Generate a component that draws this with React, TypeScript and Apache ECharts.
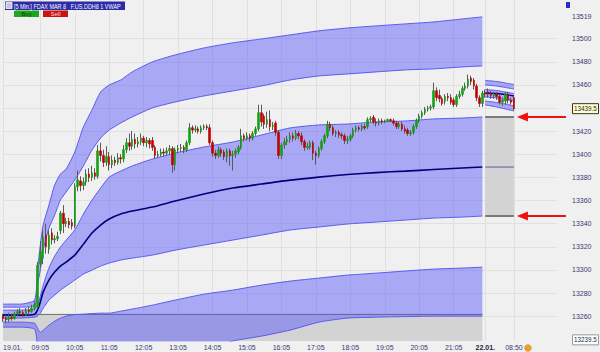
import React, { useEffect, useRef } from 'react';
import * as echarts from 'echarts';

// ---- candles: [open, close, low, high] ----
const day1Candles: number[][] = [
  [13260, 13258, 13255, 13262], [13258, 13257, 13254, 13261], [13257, 13259, 13255, 13263], [13259, 13258, 13256, 13262],
  [13258, 13262, 13257, 13264], [13262, 13264, 13260, 13266], [13264, 13263, 13261, 13267], [13263, 13261, 13259, 13265],
  [13261, 13265, 13260, 13267], [13265, 13264, 13261, 13268], [13264, 13267, 13263, 13270], [13267, 13270, 13265, 13273],
  [13268, 13304, 13266, 13307], [13305, 13316, 13302, 13325], [13310, 13328, 13305, 13335], [13330, 13320, 13314, 13340],
  [13318, 13330, 13314, 13334], [13332, 13326, 13322, 13336], [13326, 13327, 13323, 13330], [13327, 13329, 13325, 13333],
  [13334, 13349, 13331, 13351], [13349, 13340, 13332, 13356], [13340, 13342, 13337, 13345], [13342, 13339, 13336, 13345],
  [13341, 13338, 13335, 13344], [13338, 13372, 13336, 13375], [13372, 13378, 13368, 13386], [13377, 13373, 13368, 13381],
  [13373, 13376, 13369, 13380], [13376, 13383, 13373, 13387], [13383, 13380, 13376, 13388], [13380, 13384, 13377, 13390],
  [13384, 13381, 13378, 13388], [13381, 13403, 13379, 13408], [13403, 13399, 13394, 13410], [13399, 13393, 13389, 13404],
  [13393, 13398, 13390, 13407], [13398, 13391, 13386, 13402], [13391, 13395, 13388, 13399], [13395, 13393, 13390, 13398],
  [13393, 13397, 13391, 13401], [13397, 13396, 13392, 13400], [13396, 13404, 13393, 13408], [13404, 13410, 13401, 13414],
  [13410, 13407, 13403, 13418], [13407, 13413, 13404, 13420], [13413, 13409, 13405, 13418], [13409, 13411, 13406, 13415],
  [13411, 13414, 13408, 13418], [13414, 13410, 13407, 13416], [13410, 13412, 13406, 13415], [13412, 13409, 13405, 13414],
  [13412, 13406, 13403, 13415], [13406, 13399, 13396, 13408], [13399, 13400, 13397, 13403], [13400, 13402, 13398, 13405],
  [13402, 13401, 13398, 13405], [13401, 13403, 13399, 13406], [13403, 13405, 13400, 13408], [13405, 13391, 13384, 13407],
  [13391, 13404, 13386, 13406], [13404, 13405, 13401, 13408], [13405, 13406, 13402, 13409], [13406, 13404, 13401, 13408],
  [13404, 13410, 13402, 13412], [13410, 13423, 13408, 13427], [13423, 13421, 13418, 13425], [13421, 13422, 13419, 13425],
  [13422, 13420, 13418, 13424], [13420, 13423, 13418, 13425], [13423, 13424, 13421, 13426], [13424, 13423, 13421, 13426],
  [13423, 13410, 13408, 13426], [13410, 13401, 13398, 13412], [13401, 13399, 13396, 13404], [13399, 13404, 13397, 13407],
  [13404, 13401, 13398, 13406], [13402, 13398, 13395, 13404], [13398, 13403, 13393, 13405], [13403, 13399, 13390, 13405],
  [13399, 13400, 13386, 13403], [13400, 13403, 13397, 13405], [13402, 13406, 13400, 13408], [13406, 13416, 13404, 13422],
  [13416, 13414, 13411, 13418], [13414, 13416, 13412, 13419], [13416, 13414, 13411, 13418], [13414, 13418, 13412, 13420],
  [13418, 13422, 13416, 13424], [13422, 13436, 13420, 13443], [13436, 13428, 13424, 13443], [13433, 13426, 13422, 13435],
  [13426, 13430, 13423, 13437], [13430, 13424, 13420, 13438], [13424, 13425, 13421, 13428], [13427, 13419, 13416, 13429],
  [13419, 13399, 13396, 13421], [13399, 13408, 13396, 13410], [13408, 13411, 13405, 13414], [13411, 13413, 13408, 13416],
  [13413, 13416, 13410, 13419], [13416, 13414, 13411, 13419], [13414, 13418, 13412, 13421], [13418, 13416, 13413, 13420],
  [13416, 13411, 13408, 13419], [13411, 13406, 13403, 13413], [13406, 13407, 13404, 13410], [13406, 13410, 13404, 13412],
  [13410, 13401, 13395, 13412], [13401, 13399, 13391, 13403], [13399, 13405, 13397, 13407], [13405, 13411, 13403, 13413],
  [13411, 13416, 13409, 13418], [13416, 13426, 13414, 13429], [13426, 13423, 13420, 13428], [13423, 13418, 13416, 13425],
  [13418, 13419, 13415, 13421], [13419, 13417, 13414, 13421], [13417, 13416, 13413, 13419], [13416, 13412, 13409, 13418],
  [13412, 13413, 13409, 13416], [13413, 13416, 13411, 13418], [13416, 13421, 13414, 13423], [13421, 13423, 13419, 13425],
  [13423, 13422, 13420, 13425], [13422, 13424, 13420, 13426], [13424, 13423, 13421, 13426], [13424, 13430, 13422, 13432],
  [13430, 13431, 13428, 13433], [13432, 13428, 13426, 13434], [13428, 13427, 13424, 13431], [13427, 13429, 13425, 13431],
  [13429, 13428, 13426, 13431], [13428, 13429, 13427, 13430], [13429, 13430, 13428, 13431], [13430, 13429, 13428, 13431],
  [13429, 13427, 13425, 13431], [13427, 13424, 13422, 13429], [13424, 13426, 13422, 13428], [13426, 13422, 13420, 13428],
  [13422, 13420, 13418, 13425], [13421, 13418, 13416, 13423], [13418, 13419, 13416, 13421], [13419, 13424, 13417, 13426],
  [13424, 13429, 13422, 13431], [13429, 13433, 13427, 13435], [13433, 13436, 13431, 13438], [13436, 13439, 13434, 13441],
  [13439, 13440, 13437, 13442], [13440, 13441, 13438, 13443], [13441, 13455, 13439, 13462], [13455, 13449, 13446, 13458],
  [13451, 13448, 13445, 13456], [13448, 13444, 13442, 13450], [13446, 13450, 13443, 13452], [13450, 13449, 13446, 13453],
  [13449, 13445, 13443, 13452], [13447, 13443, 13441, 13449], [13443, 13450, 13441, 13452], [13450, 13452, 13448, 13455],
  [13452, 13457, 13450, 13459], [13457, 13459, 13455, 13462], [13459, 13465, 13457, 13469], [13466, 13463, 13460, 13468],
  [13464, 13459, 13456, 13466], [13459, 13449, 13446, 13461], [13449, 13444, 13441, 13451], [13444, 13453, 13441, 13455],
];
const day2Candles: number[][] = [
  [13453, 13452, 13449, 13456], [13454, 13452, 13449, 13457], [13452, 13451, 13448, 13455], [13451, 13452, 13448, 13454],
  [13452, 13450, 13447, 13454], [13450, 13445, 13443, 13452], [13445, 13447, 13442, 13449], [13446, 13452, 13443, 13454],
  [13452, 13447, 13444, 13454], [13447, 13445, 13443, 13449], [13449, 13439.5, 13438, 13450],
];

// ---- VWAP bands, day 1 (sampled at these bar indices) ----
const bandIdx = [0, 6, 11, 12, 13, 14, 16, 18, 20, 22, 25, 28, 31, 34, 37, 41, 45, 52, 60, 70, 80, 90, 100, 110, 120, 130, 140, 150, 160, 167];
const upper3 = [13270.4, 13270.4, 13273.9, 13299.8, 13321.5, 13338.8, 13356.1, 13373.4, 13382.9, 13387.3, 13402, 13423.6, 13438.4, 13453.9, 13460, 13464.3, 13471.3, 13479.9, 13486, 13492, 13496.4, 13499.8, 13503.3, 13506.8, 13509.3, 13511.1, 13512.8, 13514.5, 13517.1, 13518.9];
const upper2 = [13267.8, 13267.8, 13268.7, 13286.8, 13299.8, 13317.1, 13336.2, 13347.4, 13360.4, 13367.4, 13377.8, 13389.9, 13403.7, 13414.1, 13421, 13427.1, 13432.3, 13440.1, 13445.3, 13450.5, 13454.8, 13459.1, 13464.3, 13467.8, 13469.5, 13471.3, 13473, 13473.9, 13475.6, 13476.5];
const upper1 = [13265.2, 13265.2, 13266.1, 13268.7, 13277.3, 13286.8, 13301.6, 13311.9, 13319.7, 13325.8, 13334.5, 13348.3, 13360.4, 13370.8, 13380.3, 13385.5, 13389.9, 13395.9, 13401.1, 13406.3, 13410.6, 13416.7, 13422.8, 13425.4, 13426.2, 13428, 13428.8, 13430.6, 13431.4, 13432.3];
const vwap = [13260.9, 13260.9, 13261.7, 13265.2, 13272.1, 13280.8, 13291.2, 13298.1, 13303.3, 13306.8, 13312.8, 13322.3, 13331.9, 13338.8, 13344, 13348.3, 13350.9, 13354.4, 13359.6, 13365.6, 13370.8, 13374.3, 13377.7, 13380.3, 13382.5, 13384.2, 13385.5, 13386.8, 13388.1, 13389];
const lower1 = [13258.3, 13258.3, 13259.1, 13260, 13262.6, 13266.9, 13273.9, 13278.2, 13282.5, 13286, 13291.2, 13296.4, 13299.8, 13303.3, 13305.9, 13308.5, 13310.2, 13312.8, 13317.1, 13321.5, 13325.8, 13330.1, 13334.5, 13337.1, 13339.7, 13341.4, 13343.1, 13344.8, 13345.7, 13346.6];
const lower2 = [13254.8, 13254.8, 13253.9, 13249.6, 13246.1, 13247.9, 13252.2, 13255.7, 13258.3, 13260, 13261.3, 13261.7, 13262.2, 13262.6, 13262.6, 13264.3, 13266.1, 13269.5, 13273.9, 13279, 13282.5, 13286.8, 13290.3, 13292.9, 13295.5, 13297.2, 13299, 13300.7, 13301.6, 13302.4];
const lower3 = [13250.5, 13250.5, 13248.7, 13234.9, 13221.9, 13211.5, 13200.3, 13194.2, 13190.7, 13189, 13187.3, 13188.1, 13189.9, 13192.5, 13195.9, 13200.3, 13204.6, 13211.5, 13218.4, 13228.8, 13238.4, 13242.7, 13247.9, 13254.8, 13258.3, 13259.1, 13259.6, 13260, 13260, 13260];

// ---- VWAP bands, day 2 ----
const day2Idx = [168, 172, 175, 178];
const d2Upper3 = [13463.9, 13463, 13461.7, 13460.4];
const d2Upper2 = [13460, 13459.1, 13457.8, 13456.5];
const d2Upper1 = [13456.1, 13455.2, 13453.9, 13452.6];
const d2Vwap = [13453.1, 13452.6, 13451.8, 13450.5];
const d2Lower1 = [13449.6, 13448.8, 13447.4, 13446.1];
const d2Lower2 = [13446.1, 13444.8, 13443.5, 13441.8];
const d2Lower3 = [13442.7, 13441, 13439.2, 13437.5];

// ---- reference levels ----
const refLevel = 13261.5;
const prevUpper1 = 13432.3;
const prevVwap = 13389;
const prevLower1 = 13346.6;
const lastPrice = 13439.5;
const lowPrice = 13239.5;

// ---- axes ----
const yMin = 13238.5;
const yMax = 13533.5;
const yGridValues = [13260, 13280, 13300, 13320, 13340, 13360, 13380, 13400, 13420, 13440, 13460, 13480, 13500];
const yLabelValues = [13260, 13280, 13300, 13320, 13340, 13360, 13380, 13400, 13420, 13460, 13480, 13500, 13519];
const xTickCats = ['19.01. 08:00', '19.01. 09:05', '19.01. 10:05', '19.01. 11:05', '19.01. 12:05', '19.01. 13:05', '19.01. 14:05', '19.01. 15:05', '19.01. 16:05', '19.01. 17:05', '19.01. 18:05', '19.01. 19:05', '19.01. 20:05', '19.01. 21:05', '22.01. 08:00', '22.01. 08:50'];
const xTickLabels = ['19.01.', '09:05', '10:05', '11:05', '12:05', '13:05', '14:05', '15:05', '16:05', '17:05', '18:05', '19:05', '20:05', '21:05', '22.01.', '08:50'];
const boldLabels = ['22.01.'];

const hhmm = (m: number) => `${String(Math.floor(m / 60)).padStart(2, '0')}:${String(m % 60).padStart(2, '0')}`;
function buildCategories(): string[] {
  const cats: string[] = [];
  for (let m = 8 * 60; m < 22 * 60; m += 5) cats.push('19.01. ' + hhmm(m));
  for (let m = 8 * 60; m <= 8 * 60 + 50; m += 5) cats.push('22.01. ' + hhmm(m));
  let k = 0;
  while (cats.length < 194) cats.push('pad' + k++);
  return cats;
}

const FONT = "'Liberation Sans Narrow', 'Liberation Sans', Arial, sans-serif";
const LINE_BLUE = '#5a5af0';
const FILL_BLUE = 'rgba(80,80,250,0.45)';
const SMOOTH = 0.2;

function pairs(idx: number[], vals: number[]) {
  return idx.map((x, i) => [x, vals[i]]);
}

function fillPair(stack: string, idx: number[], lo: number[], hi: number[]) {
  return [
    { type: 'line', stack, data: pairs(idx, lo), symbol: 'none', smooth: SMOOTH, silent: true, z: 3,
      lineStyle: { color: LINE_BLUE, width: 1 } },
    { type: 'line', stack, data: idx.map((x, i) => [x, +(hi[i] - lo[i]).toFixed(2)]), symbol: 'none', smooth: SMOOTH,
      silent: true, z: 3, lineStyle: { color: LINE_BLUE, width: 1 }, areaStyle: { color: FILL_BLUE, opacity: 1 } },
  ];
}

export default function App() {
  const ref = useRef<HTMLDivElement>(null);
  useEffect(() => {
    if (!ref.current) return;
    const chart = echarts.init(ref.current, undefined, { renderer: 'svg' });
    const categories = buildCategories();
    const candles = [...day1Candles, ...day2Candles];
    const bodies = candles.map(([o, c]) => [o, c, Math.min(o, c), Math.max(o, c)]);
    const tickSet = new Set(xTickCats);
    const labelColor = '#3a3a78';

    const option: any = {
      animation: false,
      backgroundColor: '#f0f0f0',
      grid: { left: 2, right: 43, top: 0, bottom: 11, containLabel: false },
      xAxis: {
        type: 'category', data: categories, boundaryGap: false,
        axisLine: { show: false }, axisTick: { show: false },
        axisLabel: {
          interval: (_i: number, v: string) => tickSet.has(v),
          formatter: (v: string) => {
            const lab = xTickLabels[xTickCats.indexOf(v)] || '';
            return boldLabels.includes(lab) ? `{b|${lab}}` : lab;
          },
          color: labelColor, fontSize: 7, fontFamily: FONT, margin: 3, alignMinLabel: 'left',
          rich: { b: { fontWeight: 'bold', color: '#22224a', fontSize: 7, fontFamily: FONT } },
        },
        splitLine: { show: true, interval: (_i: number, v: string) => tickSet.has(v), lineStyle: { color: '#e0e0e0', width: 1 } },
      },
      yAxis: {
        type: 'value', position: 'right', min: yMin, max: yMax,
        axisLine: { show: false },
        axisTick: { show: false, customValues: yGridValues },
        axisLabel: { customValues: yLabelValues, formatter: (v: number) => String(v), color: labelColor, fontSize: 7, fontFamily: FONT, margin: 15, align: 'left' },
        splitLine: { show: true, lineStyle: { color: '#e0e0e0', width: 1 } },
      },
      series: [
        { type: 'line', data: [[0, refLevel], [167, refLevel]], symbol: 'none', silent: true, z: 1,
          lineStyle: { color: '#6e6e6e', width: 1 }, areaStyle: { color: '#d3d3d3', opacity: 1, origin: 'start' } },
        { type: 'line', data: [[168, prevVwap], [178, prevVwap]], symbol: 'none', silent: true, z: 2,
          lineStyle: { color: '#5d5da8', width: 1 },
          markArea: { silent: true, itemStyle: { color: '#d3d3d3' },
            data: [[{ coord: [168, prevUpper1] }, { coord: [178, prevLower1] }]] },
          markLine: { silent: true, symbol: ['none', 'none'], label: { show: false },
            lineStyle: { color: '#7a7a7a', width: 2, type: 'solid' },
            data: [
              [{ coord: [168, prevUpper1] }, { coord: [178, prevUpper1] }],
              [{ coord: [168, prevLower1] }, { coord: [178, prevLower1] }],
            ] } },
        ...fillPair('a1', bandIdx, upper2, upper3),
        ...fillPair('b1', bandIdx, lower1, upper1),
        ...fillPair('c1', bandIdx, lower3, lower2),
        { type: 'line', data: pairs(bandIdx, vwap), symbol: 'none', smooth: SMOOTH, silent: true, z: 4,
          lineStyle: { color: '#00007a', width: 1.6 } },
        ...fillPair('a2', day2Idx, d2Upper2, d2Upper3),
        ...fillPair('b2', day2Idx, d2Lower1, d2Upper1),
        ...fillPair('c2', day2Idx, d2Lower3, d2Lower2),
        { type: 'line', data: pairs(day2Idx, d2Vwap), symbol: 'none', smooth: SMOOTH, silent: true, z: 4,
          lineStyle: { color: '#00007a', width: 1.4 } },
        { type: 'candlestick', data: candles, barWidth: 1, silent: true, z: 5,
          itemStyle: { color: '#5a5a5a', color0: '#5a5a5a', borderColor: '#5a5a5a', borderColor0: '#5a5a5a', borderWidth: 1 } },
        { type: 'candlestick', data: bodies, barWidth: 2, silent: true, z: 6,
          itemStyle: { color: '#14a014', color0: '#c00000', borderColor: '#14a014', borderColor0: '#c00000', borderWidth: 0.6 } },
      ],
    };
    chart.setOption(option);

    const py = (v: number) => chart.convertToPixel({ yAxisIndex: 0 }, v) as number;
    const px = (i: number) => chart.convertToPixel({ xAxisIndex: 0 }, i) as number;
    const xLast = px(178);
    const arrow = (y: number) => ({
      type: 'group',
      children: [
        { type: 'line', shape: { x1: xLast + 52, y1: y, x2: xLast + 12, y2: y }, style: { stroke: '#ee1111', lineWidth: 2 } },
        { type: 'polygon', shape: { points: [[xLast + 3, y], [xLast + 14, y - 4.5], [xLast + 14, y + 4.5]] }, style: { fill: '#ee1111' } },
      ],
    });
    const priceBox = (v: number, fill: string, stroke: string) => {
      const y = py(v);
      return {
        type: 'group',
        children: [
          { type: 'rect', shape: { x: 572.5, y: y - 5, width: 26, height: 10 }, style: { fill, stroke, lineWidth: 1 } },
          { type: 'text', x: 574, y, scaleX: 0.9, style: { text: String(v), fill: '#222244', fontSize: 7, fontFamily: FONT, align: 'left', verticalAlign: 'middle' } },
        ],
      };
    };
    chart.setOption({
      graphic: [
        // header
        { type: 'rect', shape: { x: 5, y: 1.5, width: 120, height: 8.5 }, style: { fill: '#2c2ca6' }, z: 100 },
        { type: 'rect', shape: { x: 6, y: 2.5, width: 6, height: 6 }, style: { fill: '#c8c8dc', stroke: '#ffffff', lineWidth: 0.8 }, z: 101 },
        { type: 'text', x: 14, y: 6, scaleX: 0.78, z: 101, style: { text: '[5 Min.] FDAX MAR 8   F.US.DDH8 1 VWAP', fill: '#ffffff', fontSize: 7, fontFamily: FONT, align: 'left', verticalAlign: 'middle' } },
        { type: 'rect', shape: { x: 14, y: 10.5, width: 25, height: 6.5 }, style: { fill: '#1fa51f' }, z: 100 },
        { type: 'text', x: 26.5, y: 13.9, z: 101, style: { text: 'Buy', fill: '#0b400b', fontSize: 6, fontFamily: FONT, align: 'center', verticalAlign: 'middle' } },
        { type: 'rect', shape: { x: 43, y: 10.5, width: 25, height: 6.5 }, style: { fill: '#c81414' }, z: 100 },
        { type: 'text', x: 55.5, y: 13.9, z: 101, style: { text: 'Sell', fill: '#ffd6d6', fontSize: 6, fontFamily: FONT, align: 'center', verticalAlign: 'middle' } },
        // top-right marker
        { type: 'rect', shape: { x: 566, y: 2, width: 4, height: 6 }, style: { fill: '#2a2ad0' }, z: 100 },
        // arrows
        arrow(py(prevUpper1)),
        arrow(py(prevLower1)),
        // price boxes
        priceBox(lastPrice, '#ffffc4', '#333333'),
        priceBox(lowPrice, '#ffffff', '#999999'),
        // clock icon
        { type: 'circle', shape: { cx: xLast + 14, cy: 348, r: 3.3 }, style: { fill: '#f2a21e', stroke: '#c07a10', lineWidth: 0.6 }, z: 100 },
      ],
    });

    return () => chart.dispose();
  }, []);
  return <div ref={ref} style={{ position: 'fixed', left: 0, top: 0, width: 600, height: 352 }} />;
}
